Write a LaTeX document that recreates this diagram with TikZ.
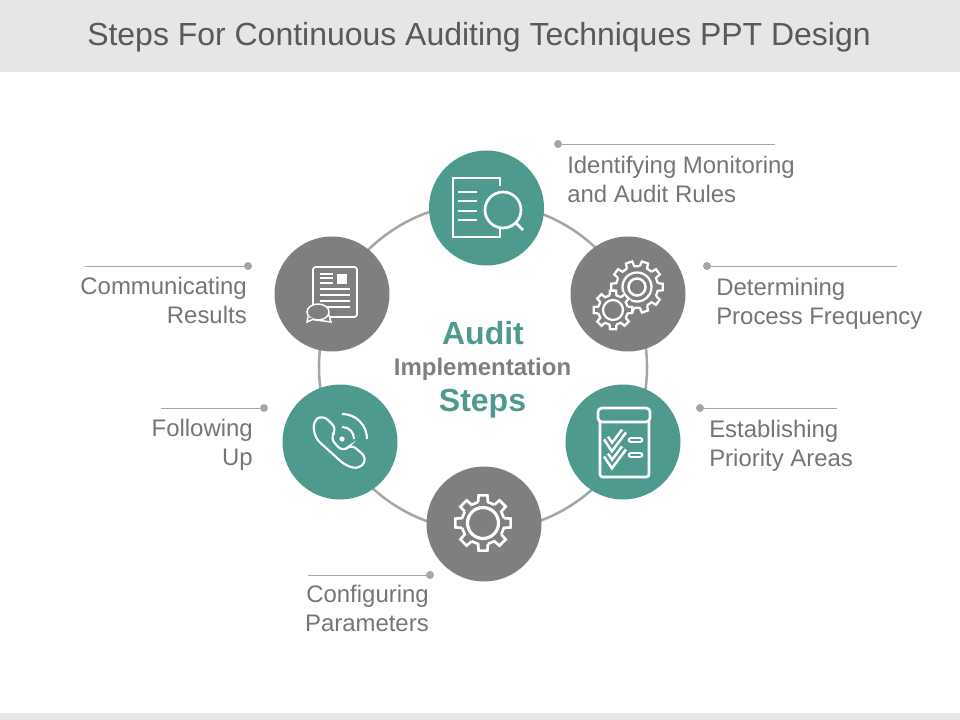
\documentclass[tikz,border=0pt]{standalone}
\usepackage{fontspec}
\setmainfont{Liberation Sans}
\definecolor{teal1}{HTML}{4F9A8F}
\definecolor{gray1}{HTML}{7F7F7F}
\definecolor{ring1}{HTML}{A6A6A6}
\definecolor{band1}{HTML}{E6E6E6}
\definecolor{title1}{HTML}{595959}
\definecolor{label1}{HTML}{757575}
\tikzstyle{step1}=[shape=circle,minimum size=86.25pt,inner sep=0pt,text=white]
\tikzstyle{tealstep}=[step1,fill=teal1]
\tikzstyle{graystep}=[step1,fill=gray1]
\tikzstyle{dot1}=[shape=circle,fill=ring1,minimum size=6pt,inner sep=0pt]
\tikzstyle{leader}=[draw=ring1,line width=0.7pt]
\tikzstyle{label1}=[text=label1,font=\fontsize{17.95}{21.75}\selectfont,inner sep=0pt]
\tikzstyle{icon}=[draw=white,line width=2pt]
% gear: center x, center y, teeth, root radius, tip radius
\newcommand{\gearicon}[6][2pt]{
	\begin{scope}[shift={(#2,#3)}]
		\foreach \a in {1,...,#4} {
			\pgfmathsetmacro{\t}{\a*360/#4}
			\pgfmathsetmacro{\u}{\t+360/#4}
			\draw[icon,line width=#1,line join=miter] (\t-105/#4:#5) -- (\t-72/#4:#6) -- (\t+72/#4:#6) -- (\t+105/#4:#5) -- (\u-105/#4:#5);
		}
	\end{scope}
}
\begin{document}
\begin{tikzpicture}[x=0.75pt,y=-0.75pt]
	\useasboundingbox (0,0) rectangle (960,720);
	\fill[band1] (0,0) rectangle (960,72);
	\fill[band1] (0,713) rectangle (960,720);
	\node (title) at (479,37.5) [text=title1,font=\fontsize{23.97}{28}\selectfont,inner sep=0pt] {Steps For Continuous Auditing Techniques PPT Design};

	% ring and steps
	\node (ring) at (483,367) [shape=circle,draw=ring1,line width=1.9pt,minimum size=246pt,inner sep=0pt] {};
	\node (s1) at (486.5,208) [tealstep] {};
	\node (s2) at (628,294) [graystep] {};
	\node (s3) at (623,442) [tealstep] {};
	\node (s4) at (484,524) [graystep] {};
	\node (s5) at (340,442) [tealstep] {};
	\node (s6) at (332,294) [graystep] {};

	% center text
	\node (audit) at (483,333) [text=teal1,font=\fontsize{24}{28}\bfseries,inner sep=0pt] {Audit};
	\node (impl) at (482.5,369) [text=gray1,font=\fontsize{18}{20}\bfseries,inner sep=0pt] {Implementation};
	\node (steps) at (482.5,404) [text=teal1,font=\fontsize{24}{28}\bfseries,inner sep=0pt] {Steps};

	% leaders
	\node (d1) at (558,144) [dot1] {};
	\coordinate (e1) at (775,144);
	\node (d2) at (707,266) [dot1] {};
	\coordinate (e2) at (897,266);
	\node (d3) at (700,408) [dot1] {};
	\coordinate (e3) at (837,408);
	\node (d4) at (430,575) [dot1] {};
	\coordinate (e4) at (308,575);
	\node (d5) at (264,408) [dot1] {};
	\coordinate (e5) at (161,408);
	\node (d6) at (248,266) [dot1] {};
	\coordinate (e6) at (85,266);
	\foreach \i in {1,...,6} \draw[leader] (d\i) -- (e\i);

	% labels
	\node (l1) at (567,156) [label1,anchor=north west,align=left] {Identifying Monitoring\\and Audit Rules};
	\node (l2) at (716,278) [label1,anchor=north west,align=left] {Determining\\Process Frequency};
	\node (l3) at (709,420) [label1,anchor=north west,align=left] {Establishing\\Priority Areas};
	\node (l4) at (429,585) [label1,anchor=north east,align=right] {Configuring\\Parameters};
	\node (l5) at (253,419) [label1,anchor=north east,align=right] {Following\\Up};
	\node (l6) at (247,277) [label1,anchor=north east,align=right] {Communicating\\Results};

	% document and lens
	\draw[icon] (500,186) -- (500,178) -- (453,178) -- (453,237) -- (500,237) -- (500,229);
	\foreach \y in {192,201,211,220} \draw[icon] (458,\y) -- (477,\y);
	\draw[icon] (503,210) circle [radius=18];
	\draw[icon] (515,222) -- (523,230);

	% gears
	\gearicon[1.7pt]{637}{287}{10}{21}{26}
	\draw[icon,line width=1.7pt] (637,287) circle [radius=14.5];
	\draw[icon,line width=1.9pt] (637,287) circle [radius=8.5];
	\fill[gray1] (613,310) circle [radius=20];
	\gearicon[1.7pt]{613}{310}{8}{15}{19.5}
	\draw[icon,line width=1.7pt] (613,310) circle [radius=10];

	% checklist
	\draw[icon,rounded corners=3pt] (598,422) -- (598,408) -- (650,408) -- (650,422) -- cycle;
	\draw[icon,rounded corners=2pt] (600,422) -- (600,477) -- (649,477) -- (649,422);
	\foreach \y in {0,17} {
		\draw[draw=white,line width=5.6pt,line join=miter] (606,438+\y) -- (612,447+\y) -- (624,431+\y);
		\draw[draw=teal1,line width=1.6pt,line join=miter] (606,438+\y) -- (612,447+\y) -- (624,431+\y);
	}
	\foreach \y in {440,455} {
		\draw[draw=white,line width=5pt,line cap=round] (631,\y) -- (640,\y);
		\draw[draw=teal1,line width=1.6pt,line cap=round] (631,\y) -- (640,\y);
	}

	% gear
	\gearicon{483}{523}{8}{21.5}{28}
	\draw[icon,line width=2.4pt] (483,523) circle [radius=15.5];

	% phone
	\draw[icon,line width=1.6pt,rounded corners=5pt] (323,415) -- (313,421) -- (315,438) -- (346,466) -- (360,469) -- (367,458) -- (351,444) -- (343,452) -- (330,438) -- (337,429) -- cycle;
	\fill[white] (342,439) circle [radius=2.6];
	\draw[icon,line width=1.6pt] (342,414) .. controls (356,414) and (367,425) .. (367,439);
	\draw[icon,line width=1.6pt] (342,427) .. controls (349,427) and (354,432) .. (354,439);

	% report and bubbles
	\draw[icon,line width=1.3pt,rounded corners=2pt] (313,267) rectangle (357,317);
	\foreach \y in {274,278,283} \draw[icon,line width=1pt] (320,\y) -- (333,\y);
	\fill[white] (337,274) rectangle (347,284);
	\foreach \y in {289,295,301,307} \draw[icon,line width=1pt] (320,\y) -- (350,\y);
	\draw[icon,line width=1.1pt,fill=gray1] (316,320) -- (331,322) -- (328,312) -- cycle;
	\draw[icon,line width=1.1pt,fill=gray1] (318,312) ellipse [x radius=11,y radius=8];
	\draw[icon,line width=1.1pt,fill=gray1] (308,317) -- (307,322) -- (314,319);
\end{tikzpicture}
\end{document}
